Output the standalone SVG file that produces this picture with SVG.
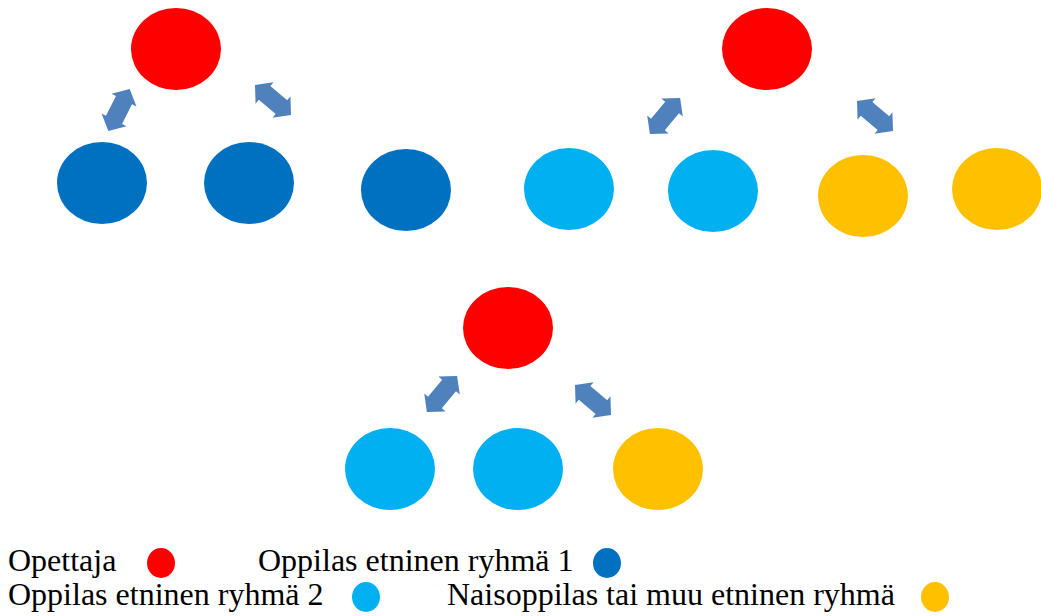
<svg xmlns="http://www.w3.org/2000/svg" xmlns:xlink="http://www.w3.org/1999/xlink" width="1041" height="616" viewBox="0 0 1041 616">
<style>
.red{fill:#FF0000}
.dblue{fill:#0070C0}
.lblue{fill:#00B0F0}
.yel{fill:#FFC000}
.arr{fill:#4F81BD}
.lbl{font-family:"Liberation Serif","Times New Roman",serif;font-size:32px;fill:#000}
</style>
<defs>
<path id="dbl" class="arr" d="M-23.5,0 L-11,-14 L-11,-9 L11,-9 L11,-14 L23.5,0 L11,14 L11,9 L-11,9 L-11,14 Z"/>
</defs>
<rect width="1041" height="616" fill="#fff"/>
<g id="group1">
<ellipse id="t1" class="red" cx="176" cy="49" rx="45" ry="41"/>
<ellipse id="s1a" class="dblue" cx="102" cy="183" rx="45" ry="41"/>
<ellipse id="s1b" class="dblue" cx="249" cy="183" rx="45" ry="41"/>
<ellipse id="s1c" class="dblue" cx="406" cy="190" rx="45" ry="41"/>
</g>
<g id="group2">
<ellipse id="t2" class="red" cx="767" cy="49" rx="45" ry="41"/>
<ellipse id="s2a" class="lblue" cx="569" cy="189" rx="45" ry="41"/>
<ellipse id="s2b" class="lblue" cx="713" cy="191" rx="45" ry="41"/>
<ellipse id="s2c" class="yel" cx="863" cy="196" rx="45" ry="41"/>
<ellipse id="s2d" class="yel" cx="997" cy="189" rx="45" ry="41"/>
</g>
<g id="group3">
<ellipse id="t3" class="red" cx="508" cy="328" rx="45" ry="41"/>
<ellipse id="s3a" class="lblue" cx="390" cy="469" rx="45" ry="41"/>
<ellipse id="s3b" class="lblue" cx="518" cy="469" rx="45" ry="41"/>
<ellipse id="s3c" class="yel" cx="658" cy="469" rx="45" ry="41"/>
</g>
<g id="connectors">
<use xlink:href="#dbl" href="#dbl" transform="translate(119,110) rotate(-63)"/>
<use xlink:href="#dbl" href="#dbl" transform="translate(273,100) rotate(40)"/>
<use xlink:href="#dbl" href="#dbl" transform="translate(665,116) rotate(-50)"/>
<use xlink:href="#dbl" href="#dbl" transform="translate(875,116) rotate(40)"/>
<use xlink:href="#dbl" href="#dbl" transform="translate(442,394) rotate(-50)"/>
<use xlink:href="#dbl" href="#dbl" transform="translate(593,400) rotate(40)"/>
</g>
<g id="legend">
<text class="lbl" x="8" y="571">Opettaja</text>
<ellipse class="red" cx="161" cy="563" rx="14" ry="15"/>
<text class="lbl" x="258" y="571">Oppilas etninen ryhmä 1</text>
<ellipse class="dblue" cx="607" cy="563" rx="14" ry="15"/>
<text class="lbl" x="8" y="605">Oppilas etninen ryhmä 2</text>
<ellipse class="lblue" cx="366" cy="597" rx="14" ry="15"/>
<text class="lbl" x="447" y="605">Naisoppilas tai muu etninen ryhmä</text>
<ellipse class="yel" cx="935" cy="597" rx="14" ry="15"/>
</g>
</svg>
